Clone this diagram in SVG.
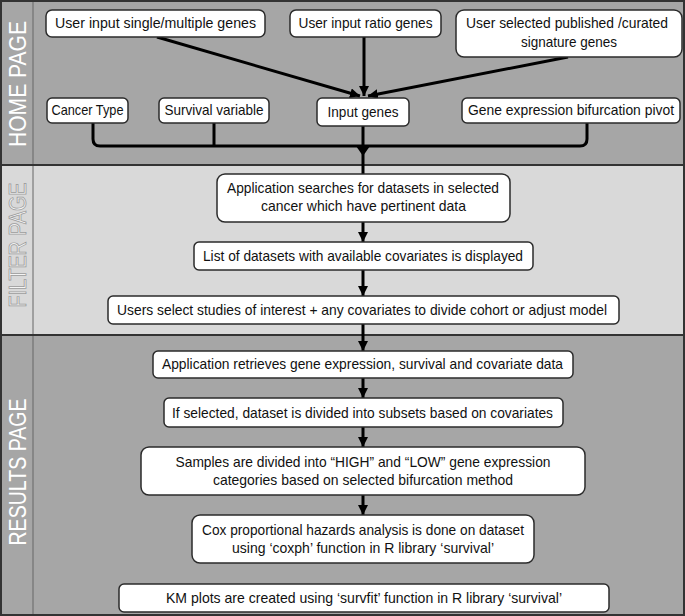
<svg xmlns="http://www.w3.org/2000/svg" width="685" height="616" viewBox="0 0 685 616">
<defs>
<marker id="ah" markerUnits="userSpaceOnUse" markerWidth="12" markerHeight="12" refX="10" refY="5" orient="auto">
<path d="M0,0 L10,5 L0,10 Z" fill="#000"/>
</marker>
<style>
.box{fill:#fff;stroke:#2b2b2b;stroke-width:1.5}
.t{font-family:"Liberation Sans",Arial,sans-serif;font-size:14.5px;fill:#111;text-anchor:middle}
.sec{font-family:"Liberation Sans",Arial,sans-serif;font-size:23px;text-anchor:middle}
.ln{stroke:#000;stroke-width:3;fill:none}
.ar{stroke:#000;stroke-width:3;fill:none;marker-end:url(#ah)}
</style>
</defs>
<g id="panels">
<rect x="0" y="0" width="685" height="165" fill="#a6a6a6"/>
<rect x="0" y="165" width="685" height="170" fill="#d9d9d9"/>
<rect x="0" y="335" width="685" height="281" fill="#a6a6a6"/>
<line x1="33" y1="0" x2="33" y2="615" stroke="#666" stroke-width="1"/>
<line x1="0" y1="165" x2="685" y2="165" stroke="#333" stroke-width="2"/>
<line x1="0" y1="335" x2="685" y2="335" stroke="#333" stroke-width="2"/>
<rect x="1" y="1" width="683" height="614" fill="none" stroke="#333" stroke-width="2"/>
<text class="sec" transform="translate(26,84) rotate(-90)" fill="#fff" textLength="126" lengthAdjust="spacingAndGlyphs">HOME PAGE</text>
<text class="sec" transform="translate(26,245) rotate(-90)" fill="#f4f4f4" stroke="#9a9a9a" stroke-width="0.8" textLength="125" lengthAdjust="spacingAndGlyphs">FILTER PAGE</text>
<text class="sec" transform="translate(26,472) rotate(-90)" fill="#fff" textLength="147" lengthAdjust="spacingAndGlyphs">RESULTS PAGE</text>
</g>
<g id="connectors">
<line class="ar" x1="157" y1="37" x2="360" y2="96"/>
<line class="ar" x1="364" y1="37" x2="364" y2="96"/>
<line class="ar" x1="568" y1="57" x2="368" y2="96"/>
<path class="ln" d="M93,123 L93,139 Q93,146 100,146 L580,146 Q587,146 587,139 L587,123"/>
<line class="ln" x1="214" y1="123" x2="214" y2="146"/>
<line class="ln" x1="363" y1="126" x2="363" y2="174"/>
<path d="M356,146 L370,146 L363,156 Z" fill="#000"/>
<line class="ar" x1="363" y1="222" x2="363" y2="242"/>
<line class="ar" x1="363" y1="270" x2="363" y2="296"/>
<line class="ar" x1="363" y1="324" x2="363" y2="351"/>
<line class="ar" x1="363" y1="378" x2="363" y2="398"/>
<line class="ar" x1="363" y1="427" x2="363" y2="447"/>
<line class="ar" x1="363" y1="495" x2="363" y2="515"/>
</g>
<g id="n1"><rect class="box" x="46" y="10" width="219" height="27" rx="6"/><text class="t" x="155.5" y="28" textLength="201" lengthAdjust="spacingAndGlyphs">User input single/multiple genes</text></g>
<g id="n2"><rect class="box" x="290" y="10" width="151" height="27" rx="6"/><text class="t" x="365.5" y="28" textLength="134" lengthAdjust="spacingAndGlyphs">User input ratio genes</text></g>
<g id="n3"><rect class="box" x="456" y="10" width="226" height="47" rx="8"/><text class="t" x="567" y="28" textLength="202" lengthAdjust="spacingAndGlyphs">User selected published /curated</text><text class="t" x="569" y="47" textLength="96" lengthAdjust="spacingAndGlyphs">signature genes</text></g>
<g id="n4"><rect class="box" x="47" y="98" width="81" height="25" rx="5"/><text class="t" x="87.5" y="115" textLength="72" lengthAdjust="spacingAndGlyphs">Cancer Type</text></g>
<g id="n5"><rect class="box" x="159" y="98" width="110" height="25" rx="5"/><text class="t" x="214" y="115" textLength="99" lengthAdjust="spacingAndGlyphs">Survival variable</text></g>
<g id="n6"><rect class="box" x="317" y="98" width="92" height="28" rx="5"/><text class="t" x="363" y="117" textLength="71" lengthAdjust="spacingAndGlyphs">Input genes</text></g>
<g id="n7"><rect class="box" x="462" y="98" width="218" height="25" rx="5"/><text class="t" x="571" y="115" textLength="206" lengthAdjust="spacingAndGlyphs">Gene expression bifurcation pivot</text></g>
<g id="n8"><rect class="box" x="217" y="174" width="293" height="48" rx="8"/><text class="t" x="363" y="193" textLength="272" lengthAdjust="spacingAndGlyphs">Application searches for datasets in selected</text><text class="t" x="363.5" y="211" textLength="205" lengthAdjust="spacingAndGlyphs">cancer which have pertinent data</text></g>
<g id="n9"><rect class="box" x="194" y="242" width="339" height="28" rx="5"/><text class="t" x="363" y="261" textLength="320" lengthAdjust="spacingAndGlyphs">List of datasets with available covariates is displayed</text></g>
<g id="n10"><rect class="box" x="108" y="296" width="511" height="28" rx="5"/><text class="t" x="362" y="315" textLength="490" lengthAdjust="spacingAndGlyphs">Users select studies of interest + any covariates to divide cohort or adjust model</text></g>
<g id="n11"><rect class="box" x="153" y="351" width="420" height="27" rx="5"/><text class="t" x="362.5" y="369" textLength="401" lengthAdjust="spacingAndGlyphs">Application retrieves gene expression, survival and covariate data</text></g>
<g id="n12"><rect class="box" x="164" y="398" width="399" height="29" rx="5"/><text class="t" x="362.5" y="418" textLength="381" lengthAdjust="spacingAndGlyphs">If selected, dataset is divided into subsets based on covariates</text></g>
<g id="n13"><rect class="box" x="141" y="447" width="444" height="48" rx="8"/><text class="t" x="363" y="467" textLength="375" lengthAdjust="spacingAndGlyphs">Samples are divided into “HIGH” and “LOW” gene expression</text><text class="t" x="363" y="485" textLength="300" lengthAdjust="spacingAndGlyphs">categories based on selected bifurcation method</text></g>
<g id="n14"><rect class="box" x="192" y="515" width="342" height="48" rx="8"/><text class="t" x="363" y="535" textLength="322" lengthAdjust="spacingAndGlyphs">Cox proportional hazards analysis is done on dataset</text><text class="t" x="363" y="553" textLength="262" lengthAdjust="spacingAndGlyphs">using ‘coxph’ function in R library ‘survival’</text></g>
<g id="n15"><rect class="box" x="119" y="584" width="490" height="28" rx="5"/><text class="t" x="364" y="603" textLength="396" lengthAdjust="spacingAndGlyphs">KM plots are created using ‘survfit’ function in R library ‘survival’</text></g>
</svg>
